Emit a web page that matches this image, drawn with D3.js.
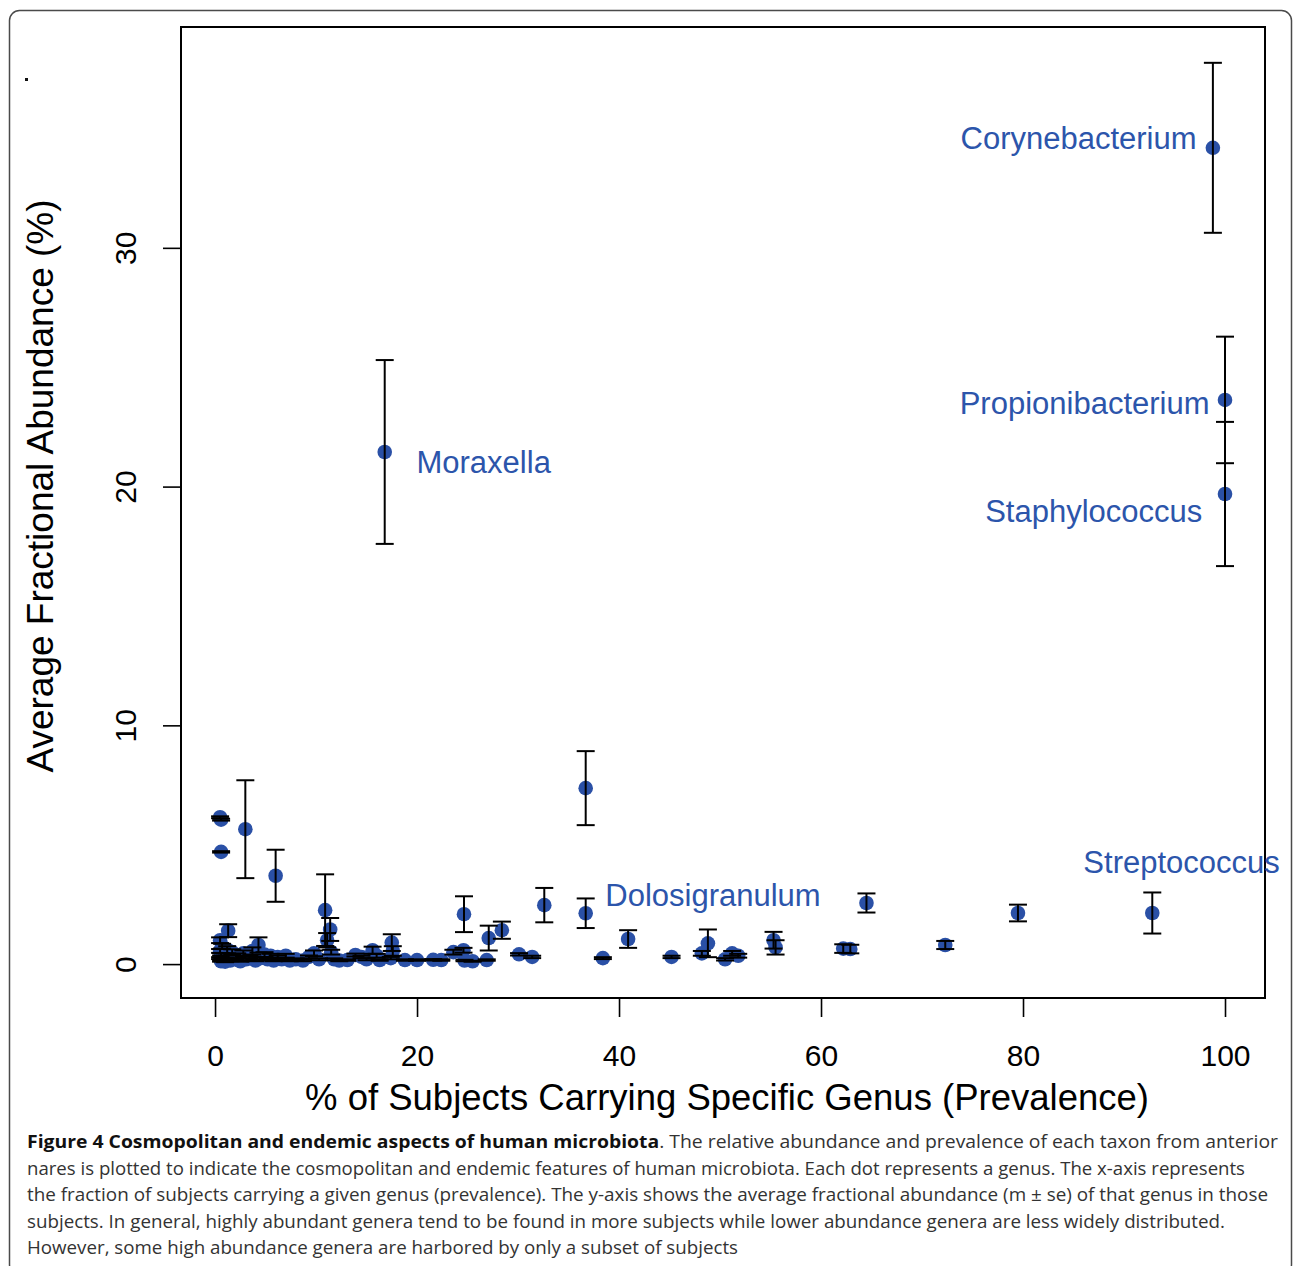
<!DOCTYPE html>
<html>
<head>
<meta charset="utf-8">
<script src="https://cdn.jsdelivr.net/npm/d3@7"></script>
<style>
  html, body { margin: 0; padding: 0; background: #fff; }
  svg { display: block; }
</style>
</head>
<body>
<svg id="fig" width="1293" height="1266"></svg>
<script>
// Prevalence (% of subjects), mean fractional abundance (%) and standard error per genus
const prevalence = [
  0.5, 0.6, 0.6, 0.5, 0.7, 0.5, 0.6, 0.5, 0.6, 0.8, 1.0, 1.0, 1.2, 1.3, 1.5, 1.7, 2.0, 2.2, 2.5, 2.8,
  3.0, 3.1, 3.4, 3.7, 4.0, 4.3, 4.5, 4.9, 5.2, 5.5, 5.8, 6.0, 6.2, 6.6, 7.0, 7.4, 8.0, 8.7, 9.3, 9.8,
  10.3, 10.9, 11.1, 11.4, 11.5, 11.8, 12.3, 13.1, 13.9, 14.5, 15.0, 15.6, 16.0, 16.3, 16.8, 17.4, 17.5, 17.6,
  18.8, 20.0, 21.6, 22.4, 23.6, 24.6, 24.65, 24.7, 25.5, 26.9, 27.1, 28.4, 30.1, 31.4, 32.6, 36.7, 36.7,
  38.4, 40.9, 45.2, 48.2, 48.8, 50.5, 51.2, 51.8, 55.3, 55.5, 62.2, 62.9, 64.5, 72.3, 79.5, 92.8, 98.8, 100, 100
];
const abundance = [
  6.15, 6.05, 4.7, 1.0, 0.75, 0.55, 0.4, 0.25, 0.12, 0.18, 0.1, 0.3, 0.6, 1.4, 0.15, 0.5, 0.2, 0.35, 0.12, 0.45,
  5.65, 0.2, 0.3, 0.55, 0.15, 0.8, 0.25, 0.4, 0.2, 0.35, 0.15, 3.7, 0.3, 0.2, 0.35, 0.15, 0.2, 0.15, 0.3, 0.45,
  0.2, 2.26, 1.0, 1.45, 0.5, 0.2, 0.15, 0.17, 0.38, 0.3, 0.2, 0.58, 0.35, 0.17, 21.45, 0.25, 0.9, 0.55,
  0.17, 0.17, 0.18, 0.17, 0.5, 0.58, 2.09, 0.15, 0.12, 0.17, 1.09, 1.42, 0.41, 0.3, 2.47, 7.37, 2.13,
  0.25, 1.05, 0.3, 0.45, 0.87, 0.2, 0.45, 0.35, 1.0, 0.7, 0.65, 0.63, 2.56, 0.8, 2.14, 2.14, 34.19, 23.63, 19.69
];
const stdErr = [
  0.04, 0.04, 0.03, 0.12, 0.1, 0.08, 0.05, 0.04, 0.02, 0.03, 0.02, 0.05, 0.15, 0.27, 0.03, 0.12, 0.04, 0.1, 0.02, 0.12,
  2.05, 0.04, 0.05, 0.15, 0.03, 0.32, 0.05, 0.1, 0.04, 0.08, 0.03, 1.09, 0.06, 0.04, 0.08, 0.03, 0.04, 0.03, 0.06, 0.12,
  0.04, 1.5, 0.3, 0.48, 0.1, 0.04, 0.03, 0.03, 0.06, 0.05, 0.04, 0.15, 0.08, 0.03, 3.85, 0.05, 0.35, 0.2,
  0.03, 0.03, 0.03, 0.03, 0.1, 0.1, 0.75, 0.03, 0.02, 0.03, 0.52, 0.36, 0.05, 0.05, 0.72, 1.55, 0.62,
  0.04, 0.37, 0.05, 0.1, 0.58, 0.05, 0.1, 0.08, 0.35, 0.3, 0.18, 0.18, 0.4, 0.17, 0.35, 0.86, 3.56, 2.65, 3.02
];

// Genus names written on the plot, placed in data units (text centre)
const labelNames = ["Corynebacterium", "Propionibacterium", "Staphylococcus", "Moraxella", "Dolosigranulum", "Streptococcus"];
const labelX = [85.5, 86.1, 87.0, 26.6, 49.3, 95.7];
const labelY = [34.56, 23.5, 18.94, 20.99, 2.89, 4.27];

const xTicks = [0, 20, 40, 60, 80, 100];
const yTicks = [0, 10, 20, 30];

const captionLines = [
  { bold: "Figure 4 Cosmopolitan and endemic aspects of human microbiota", rest: ". The relative abundance and prevalence of each taxon from anterior", w: 1251 },
  { bold: "", rest: "nares is plotted to indicate the cosmopolitan and endemic features of human microbiota. Each dot represents a genus. The x-axis represents", w: 1218 },
  { bold: "", rest: "the fraction of subjects carrying a given genus (prevalence). The y-axis shows the average fractional abundance (m \u00b1 se) of that genus in those", w: 1241 },
  { bold: "", rest: "subjects. In general, highly abundant genera tend to be found in more subjects while lower abundance genera are less widely distributed.", w: 1198 },
  { bold: "", rest: "However, some high abundance genera are harbored by only a subset of subjects", w: 711 }
];

const svg = d3.select("#fig");
const box = { left: 181, right: 1265, top: 27, bottom: 998 };

const x = d3.scaleLinear().domain([-3.37, 103.96]).range([box.left, box.right]);
const y = d3.scaleLinear().domain([-1.42, 39.25]).range([box.bottom, box.top]);

const dotColor = "#2a50a6";
const labelColor = "#2c55ab";
const axisFont = "'Liberation Sans', Arial, Helvetica, sans-serif";

// outer figure frame
svg.append("rect")
  .attr("x", 9.5).attr("y", 10.5).attr("width", 1282).attr("height", 1264)
  .attr("rx", 10).attr("fill", "none").attr("stroke", "#4a4a4a").attr("stroke-width", 1.5);

svg.append("rect").attr("x", 25).attr("y", 78).attr("width", 3).attr("height", 3).attr("fill", "#111");

// points
const data = prevalence.map((p, i) => ({ p, a: abundance[i], se: stdErr[i] }));
svg.append("g").selectAll("circle").data(data).join("circle")
  .attr("cx", d => x(d.p)).attr("cy", d => y(d.a)).attr("r", 7.3)
  .attr("fill", dotColor);

// error bars (mean +/- se) drawn over the points
const bars = svg.append("g").attr("stroke", "#000").attr("stroke-width", 2).attr("fill", "none");
const capHalf = 9;
data.forEach(d => {
  const cx = x(d.p), y0 = y(d.a - d.se), y1 = y(d.a + d.se);
  bars.append("line").attr("x1", cx).attr("x2", cx).attr("y1", y0).attr("y2", y1);
  bars.append("line").attr("x1", cx - capHalf).attr("x2", cx + capHalf).attr("y1", y0).attr("y2", y0);
  bars.append("line").attr("x1", cx - capHalf).attr("x2", cx + capHalf).attr("y1", y1).attr("y2", y1);
});

// plot box
svg.append("rect")
  .attr("x", box.left).attr("y", box.top)
  .attr("width", box.right - box.left).attr("height", box.bottom - box.top)
  .attr("fill", "none").attr("stroke", "#000").attr("stroke-width", 2);

// x axis
const xAxis = svg.append("g").attr("transform", `translate(0,${box.bottom})`)
  .call(d3.axisBottom(x).tickValues(xTicks).tickSize(19).tickPadding(28).tickFormat(d3.format("d")));
xAxis.select(".domain").attr("d", `M${x(0)},0H${x(100)}`).attr("stroke-width", 2);
xAxis.selectAll(".tick line").attr("stroke-width", 1.6);
xAxis.selectAll("text").attr("font-family", axisFont).attr("font-size", 30).attr("fill", "#000");

// y axis with rotated tick labels
const yAxis = svg.append("g").attr("transform", `translate(${box.left},0)`)
  .call(d3.axisLeft(y).tickValues(yTicks).tickSize(18).tickFormat(d3.format("d")));
yAxis.select(".domain").attr("d", `M0,${y(0)}V${y(30)}`).attr("stroke-width", 2);
yAxis.selectAll(".tick line").attr("stroke-width", 1.6);
yAxis.selectAll(".tick text")
  .attr("font-family", axisFont).attr("font-size", 30).attr("fill", "#000")
  .attr("x", null).attr("dy", null)
  .attr("text-anchor", "middle")
  .attr("transform", "translate(-56,0) rotate(-90)")
  .attr("y", 0).attr("dominant-baseline", "central");

// axis titles
svg.append("text")
  .attr("x", 727).attr("y", 1110)
  .attr("text-anchor", "middle").attr("font-family", axisFont).attr("font-size", 36.5)
  .text("% of Subjects Carrying Specific Genus (Prevalence)");
svg.append("text")
  .attr("transform", `translate(53,486) rotate(-90)`)
  .attr("text-anchor", "middle").attr("font-family", axisFont).attr("font-size", 37)
  .text("Average Fractional Abundance (%)");

// genus labels
svg.append("g").selectAll("text").data(labelNames).join("text")
  .attr("x", (d, i) => x(labelX[i])).attr("y", (d, i) => y(labelY[i]))
  .attr("text-anchor", "middle").attr("dominant-baseline", "central")
  .attr("font-family", axisFont).attr("font-size", 31).attr("fill", labelColor)
  .text(d => d);

// caption
const cap = svg.append("g").attr("font-family", "'Open Sans', 'Noto Sans', sans-serif").attr("font-size", 18).attr("fill", "#333");
captionLines.forEach((ln, i) => {
  const t = cap.append("text").attr("x", 27).attr("y", 1148 + i * 26.5);
  if (ln.w) t.attr("textLength", ln.w).attr("lengthAdjust", "spacingAndGlyphs");
  if (ln.bold) t.append("tspan").attr("font-weight", "bold").attr("fill", "#111").text(ln.bold);
  t.append("tspan").text(ln.rest);
});
</script>
</body>
</html>
